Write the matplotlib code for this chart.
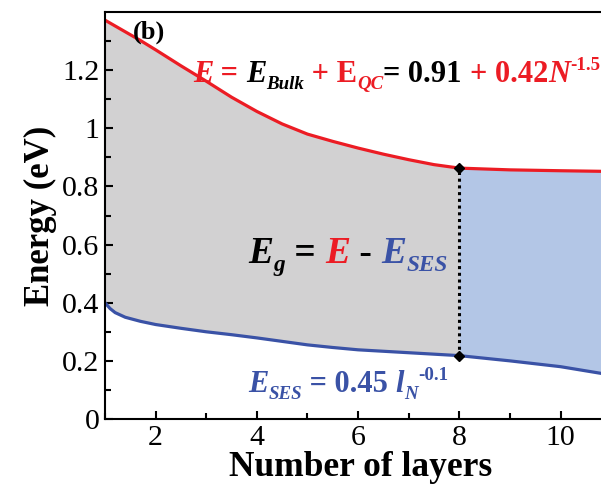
import matplotlib
matplotlib.use("Agg")
import matplotlib.pyplot as plt
from matplotlib.ticker import MultipleLocator, FixedLocator, FormatStrFormatter
import numpy as np

# number of layers N and read-off energies (eV)
layers = [1, 1.1, 1.2, 1.4, 1.7, 2, 2.5, 3, 3.5, 4, 4.5, 5, 5.5, 6, 6.5, 7, 7.5, 8, 9, 10, 10.8]
e_total = [1.372, 1.362, 1.352, 1.332, 1.302, 1.27, 1.215, 1.162, 1.107, 1.058, 1.015, 0.980,
           0.955, 0.932, 0.911, 0.892, 0.875, 0.863, 0.857, 0.854, 0.852]
e_ses = [0.40, 0.38, 0.366, 0.35, 0.336, 0.325, 0.312, 0.30, 0.29, 0.279, 0.267, 0.255,
         0.246, 0.238, 0.233, 0.228, 0.223, 0.218, 0.20, 0.18, 0.157]
n_mark = 8

red = "#ec1c24"
blue = "#3a52a6"

plt.rcParams["font.family"] = "Liberation Serif"

fig = plt.figure(figsize=(6.01, 4.90), dpi=100)
ax = fig.add_axes([0.1747, 0.1449, 0.8253, 0.8306])

x = np.array(layers)
top = np.array(e_total)
bot = np.array(e_ses)
ax.fill_between(x, bot, top, where=x <= n_mark, color="#d2d1d2", lw=0, interpolate=True)
ax.fill_between(x, bot, top, where=x >= n_mark, color="#b3c6e6", lw=0, interpolate=True)
ax.plot(x, top, color=red, lw=2.3)
ax.plot(x, bot, color=blue, lw=2.3)

i8 = layers.index(n_mark)
ax.plot([n_mark, n_mark], [e_ses[i8], e_total[i8]], color="black", ls=(0, (1, 1.2)), lw=2.2)
ax.plot([n_mark, n_mark], [e_ses[i8], e_total[i8]], "D", color="black", ms=5.5)

ax.set_xlim(1, 10.8)
ax.set_ylim(0, 1.40)
ax.xaxis.set_major_locator(MultipleLocator(2))
ax.xaxis.set_minor_locator(MultipleLocator(1))
ax.yaxis.set_major_locator(FixedLocator([0, 0.2, 0.4, 0.6, 0.8, 1.0, 1.2]))
ax.yaxis.set_minor_locator(FixedLocator([0.1, 0.3, 0.5, 0.7, 0.9, 1.1, 1.3]))
ax.yaxis.set_major_formatter(FormatStrFormatter("%g"))
ax.tick_params(which="both", direction="in", labelsize=21.5, width=1.5)
ax.tick_params(which="major", length=6, pad=4)
ax.tick_params(which="minor", length=4)
ax.spines["right"].set_visible(False)
for s in ["left", "bottom", "top"]:
    ax.spines[s].set_linewidth(1.5)

ax.set_xlabel("Number of layers", fontsize=25.5, fontweight="bold", labelpad=0)
ax.xaxis.label.set_x(0.516)
ax.set_ylabel("Energy (eV)", fontsize=25, fontweight="bold", labelpad=4)

ax.text(1.55, 1.31, "(b)", fontsize=19, fontweight="bold", va="baseline")

renderer = fig.canvas.get_renderer()


def chain(x0, y0, pieces, size):
    # pieces: (text, colour, style, scale, shift in em)
    dx = 0.0
    for s, c, style, scale, shift in pieces:
        t = ax.annotate(s, xy=(x0, y0), xycoords="data", xytext=(dx, shift * size),
                        textcoords="offset points", color=c, fontsize=size * scale,
                        fontstyle=style, fontweight="bold", va="baseline", ha="left")
        bb = t.get_window_extent(renderer)
        dx += bb.width * 72 / fig.dpi


chain(2.74, 1.159, [("E", red, "italic", 1, 0), (" = ", red, "normal", 1, 0),
                    ("E", "black", "italic", 1, 0), ("Bulk", "black", "italic", 0.62, -0.22),
                    (" + E", red, "normal", 1, 0), ("QC", red, "italic", 0.62, -0.22),
                    ("= 0.91 ", "black", "normal", 1, 0), ("+ 0.42", red, "normal", 1, 0),
                    ("N", red, "italic", 1, 0), ("-1.5", red, "normal", 0.62, 0.4)], 22)
chain(3.83, 0.536, [("E", "black", "italic", 1, 0), ("g", "black", "italic", 0.62, -0.22),
                    (" = ", "black", "normal", 1, 0), ("E", red, "italic", 1, 0),
                    (" - ", "black", "normal", 1, 0), ("E", blue, "italic", 1, 0),
                    ("SES", blue, "italic", 0.62, -0.22)], 27)
chain(3.83, 0.093, [("E", blue, "italic", 1, 0), ("SES", blue, "italic", 0.62, -0.22),
                    (" = 0.45 ", blue, "normal", 1, 0), ("l", blue, "italic", 1, 0),
                    ("N", blue, "italic", 0.62, -0.22), ("-0.1", blue, "normal", 0.62, 0.4)], 22)

fig.savefig("out.png", dpi=100)
